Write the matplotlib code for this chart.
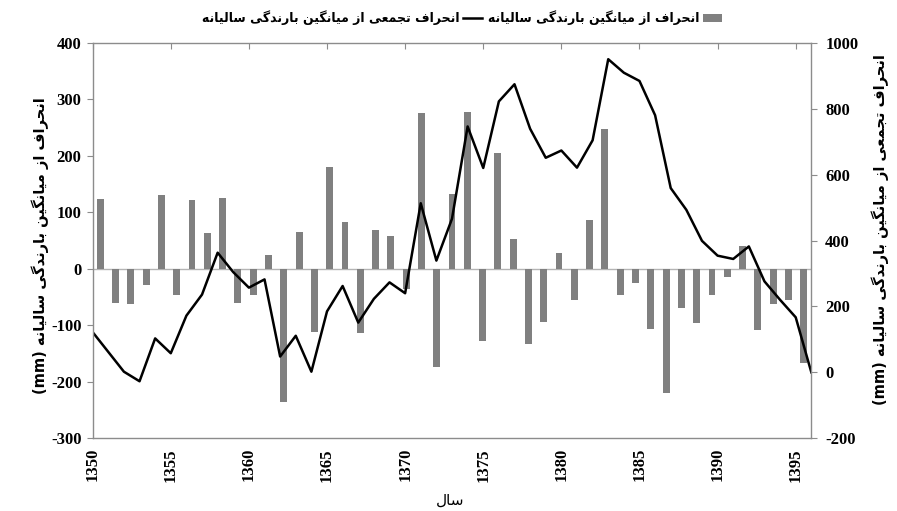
import matplotlib
matplotlib.use('Agg')
import matplotlib.pyplot as plt
from matplotlib.patches import Patch
from matplotlib.lines import Line2D

# سال‌ها
years = list(range(1350, 1397))

# انحراف از میانگین بارندگی سالیانه (mm)
deviation = [123, -60, -62, -29, 130, -47, 121, 64, 126, -60,
             -47, 24, -236, 65, -112, 180, 83, -113, 69, 58,
             -35, 275, -173, 133, 278, -128, 204, 53, -133, -95,
             27, -56, 86, 248, -46, -25, -107, -220, -69, -96,
             -46, -14, 41, -109, -62, -56, -167]

# انحراف تجمعی (mm)
cumulative = [122, 62, 2, -27, 103, 58, 172, 236, 363, 304,
              257, 282, 48, 111, 2, 185, 262, 151, 223, 273,
              240, 513, 339, 466, 746, 620, 822, 874, 739, 651,
              673, 621, 704, 950, 909, 884, 780, 559, 493, 399,
              354, 344, 382, 276, 220, 167, 0]

left_ticks = list(range(-300, 401, 100))
right_ticks = list(range(-200, 1001, 200))
year_ticks = list(range(1350, 1396, 5))

# --- simple Persian shaping (matplotlib does no bidi / joining) ---
FORMS = {
    'ا': (0xFE8D, 0xFE8E, None, None), 'ب': (0xFE8F, 0xFE90, 0xFE91, 0xFE92),
    'ت': (0xFE95, 0xFE96, 0xFE97, 0xFE98), 'ج': (0xFE9D, 0xFE9E, 0xFE9F, 0xFEA0),
    'ح': (0xFEA1, 0xFEA2, 0xFEA3, 0xFEA4), 'د': (0xFEA9, 0xFEAA, None, None),
    'ر': (0xFEAD, 0xFEAE, None, None), 'ز': (0xFEAF, 0xFEB0, None, None),
    'س': (0xFEB1, 0xFEB2, 0xFEB3, 0xFEB4), 'ع': (0xFEC9, 0xFECA, 0xFECB, 0xFECC),
    'ف': (0xFED1, 0xFED2, 0xFED3, 0xFED4), 'ل': (0xFEDD, 0xFEDE, 0xFEDF, 0xFEE0),
    'م': (0xFEE1, 0xFEE2, 0xFEE3, 0xFEE4), 'ن': (0xFEE5, 0xFEE6, 0xFEE7, 0xFEE8),
    'ه': (0xFEE9, 0xFEEA, 0xFEEB, 0xFEEC), 'گ': (0xFB92, 0xFB93, 0xFB94, 0xFB95),
    'ی': (0xFBFC, 0xFBFD, 0xFBFE, 0xFBFF),
}


def fa(text):
    out = []
    for i, ch in enumerate(text):
        if ch not in FORMS:
            out.append(ch)
            continue
        prev = text[i - 1] if i > 0 else ''
        nxt = text[i + 1] if i + 1 < len(text) else ''
        join_prev = prev in FORMS and FORMS[prev][2] is not None
        join_next = FORMS[ch][2] is not None and nxt in FORMS
        f = FORMS[ch]
        if join_prev and join_next:
            code = f[3]
        elif join_prev:
            code = f[1]
        elif join_next:
            code = f[2]
        else:
            code = f[0]
        out.append(chr(code))
    return ''.join(reversed(out))


bar_label = fa('انحراف از میانگین بارندگی سالیانه')
line_label = fa('انحراف تجمعی از میانگین بارندگی سالیانه')
left_title = '(mm) ' + fa('انحراف از میانگین بارندگی سالیانه')
right_title = '(mm) ' + fa('انحراف تجمعی از میانگین بارندگی سالیانه')
x_title = fa('سال')

fa_font = ['DejaVu Sans']
num_font = dict(family='Liberation Serif', weight='bold', size=12)
axis_grey = '#8c8c8c'

fig = plt.figure(figsize=(8.97, 5.11), dpi=100)
rect = [0.1033, 0.1423, 0.8012, 0.7741]

# столбцы — годовые отклонения
ax_bar = fig.add_axes(rect)
ax_bar.bar(range(len(years)), deviation, width=0.45, color='#808080')
ax_bar.axhline(0, color='#b4b4b4', lw=1, zorder=0)
ax_bar.set_xlim(-0.5, len(years) - 0.5)
ax_bar.set_ylim(-300, 400)
ax_bar.set_xticks([])
ax_bar.set_yticks(left_ticks)
ax_bar.set_yticklabels([str(t) for t in left_ticks], fontdict=num_font)
ax_bar.tick_params(axis='y', direction='out', length=4, color=axis_grey, pad=4)
for s in ax_bar.spines.values():
    s.set_visible(False)

# линия — накопленное отклонение
ax_line = fig.add_axes(rect, facecolor='none')
ax_line.plot(years, cumulative, color='black', lw=1.8)
ax_line.set_xlim(1350, 1396)
ax_line.set_ylim(-200, 1000)
ax_line.yaxis.tick_right()
ax_line.set_yticks(right_ticks)
ax_line.set_yticklabels([str(t) for t in right_ticks], fontdict=num_font)
ax_line.tick_params(axis='y', direction='out', length=4, color=axis_grey, pad=6)
ax_line.set_xticks(year_ticks)
ax_line.set_xticklabels([str(t) for t in year_ticks], fontdict=num_font, rotation=90)
ax_line.tick_params(axis='x', top=True, bottom=False, labelbottom=True,
                    direction='in', length=4, color=axis_grey, pad=7)
for s in ax_line.spines.values():
    s.set_color(axis_grey)
    s.set_linewidth(1)

fig.text(0.045, 0.52, left_title, rotation=90, ha='center', va='center',
         family=fa_font, weight='bold', size=10.5)
fig.text(0.981, 0.55, right_title, rotation=90, ha='center', va='center',
         family=fa_font, weight='bold', size=10.5)
fig.text(0.502, 0.022, x_title, ha='center', va='center', family=fa_font, size=11)

handles = [Line2D([], [], color='black', lw=1.8),
           Patch(facecolor='#808080', edgecolor='none')]
fig.legend(handles, [line_label, bar_label], loc='center', bbox_to_anchor=(0.515, 0.965),
           ncol=2, frameon=False, markerfirst=False, handlelength=1.5,
           columnspacing=0.5, handletextpad=0.3,
           prop=dict(family=fa_font, weight='bold', size=9))

fig.savefig('out.png', dpi=100)
